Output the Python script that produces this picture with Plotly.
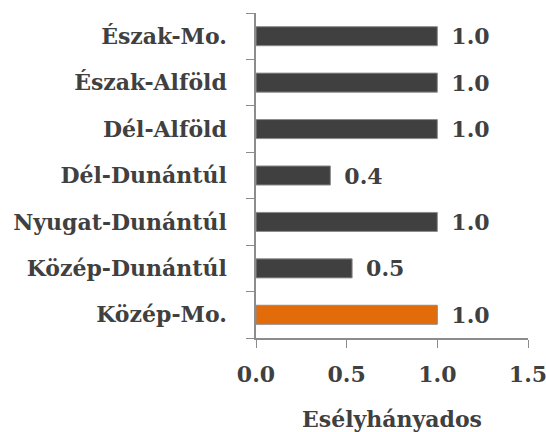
import plotly.graph_objects as go

categories = ["Közép-Mo.", "Közép-Dunántúl", "Nyugat-Dunántúl", "Dél-Dunántúl",
              "Dél-Alföld", "Észak-Alföld", "Észak-Mo."]
values = [1.0, 0.53, 1.0, 0.41, 1.0, 1.0, 1.0]
colors = ["#E36C0A", "#404040", "#404040", "#404040", "#404040", "#404040", "#404040"]
x_ticks = [0.0, 0.5, 1.0, 1.5]
x_title = "Esélyhányados"

FONT = "DejaVu Serif, serif"
TXT = "#404040"
FS = 22

fig = go.Figure()
fig.add_trace(go.Bar(
    y=categories, x=values, orientation="h",
    marker=dict(color=colors, line=dict(color="#8c8c8c", width=1)),
    width=0.41,
    text=[f"\u2002{v:.1f}" for v in values],
    textposition="outside", cliponaxis=False, constraintext="none",
    textfont=dict(family=FONT, size=FS, color=TXT, weight="bold"),
))

fig.update_layout(
    width=546, height=432,
    margin=dict(l=256, r=18, t=13, b=94),
    paper_bgcolor="white", plot_bgcolor="white",
    showlegend=False,
    font=dict(family=FONT, color=TXT),
    xaxis=dict(range=[0, 1.5], tickvals=x_ticks, ticktext=[f"{t:.1f}" for t in x_ticks],
               showgrid=False, zeroline=False, showline=True, linecolor="#8c8c8c",
               linewidth=1.5, ticks="outside", ticklen=8, tickcolor="#8c8c8c",
               automargin=False, ticklabeloverflow="allow", ticklabelstandoff=8,
               tickfont=dict(family=FONT, size=FS, color=TXT, weight="bold"),
               title=dict(text=x_title, standoff=25,
                          font=dict(family=FONT, size=FS, color=TXT, weight="bold"))),
    yaxis=dict(categoryorder="array", categoryarray=categories,
               showgrid=False, zeroline=False, showline=True, linecolor="#8c8c8c",
               linewidth=1.5, ticks="outside", ticklen=8, tickcolor="#8c8c8c",
               tickson="boundaries", ticklabelstandoff=23, automargin=False,
               tickfont=dict(family=FONT, size=FS, color=TXT, weight="bold")),
)

fig.write_html("out.html", config={"displayModeBar": False},
               post_script="document.body.style.margin='0';")
